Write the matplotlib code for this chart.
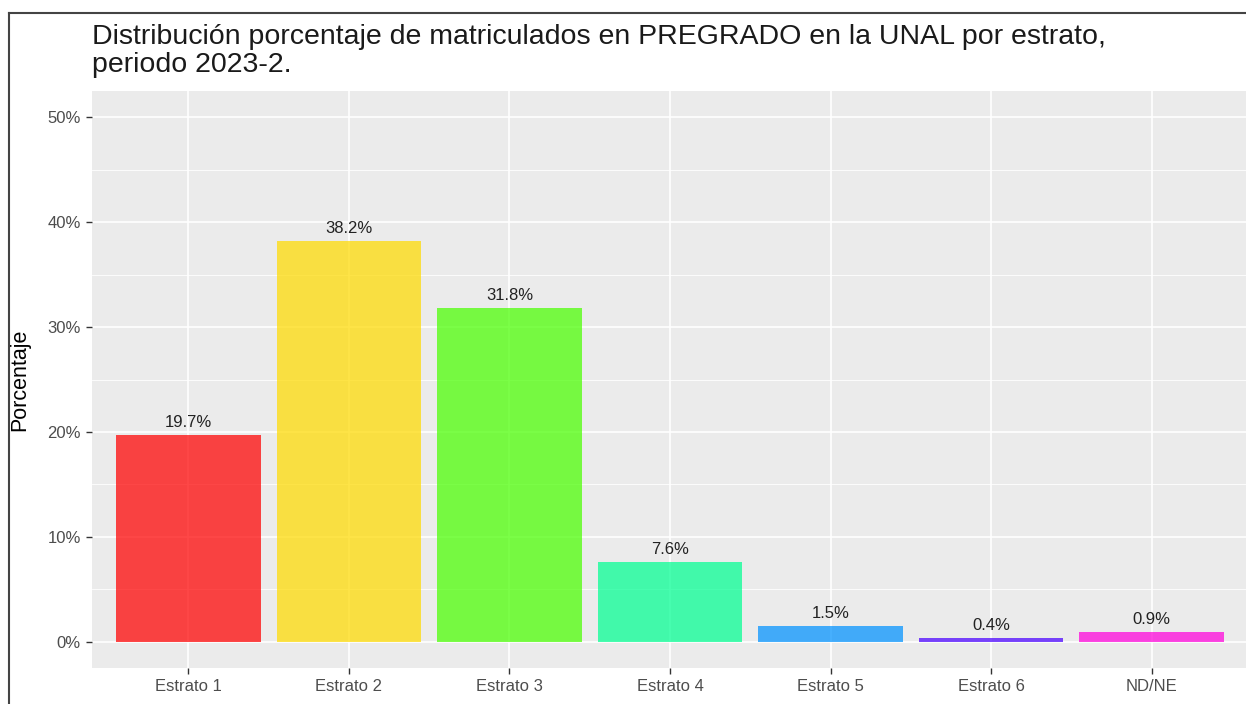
import matplotlib
matplotlib.use("Agg")
import matplotlib.pyplot as plt
from matplotlib.lines import Line2D

categories = ["Estrato 1", "Estrato 2", "Estrato 3", "Estrato 4", "Estrato 5", "Estrato 6", "ND/NE"]
values = [19.7, 38.2, 31.8, 7.6, 1.5, 0.4, 0.9]
labels = ["19.7%", "38.2%", "31.8%", "7.6%", "1.5%", "0.4%", "0.9%"]
colors = ["#FF0000", "#FFDB00", "#49FF00", "#00FF92", "#0092FF", "#4900FF", "#FF00DB"]
yticks = [0, 10, 20, 30, 40, 50]
yticklabels = ["0%", "10%", "20%", "30%", "40%", "50%"]
title_line1 = "Distribución porcentaje de matriculados en PREGRADO en la UNAL por estrato,"
title_line2 = "periodo 2023-2."

plt.rcParams['font.family'] = ['Liberation Sans', 'DejaVu Sans']

W, H = 1246, 704
fig = plt.figure(figsize=(W / 100, H / 100), dpi=100)
fig.patch.set_facecolor("white")

left, right, top, bottom = 92, 1248, 91, 668
ax = fig.add_axes([left / W, (H - bottom) / H, (right - left) / W, (bottom - top) / H])
ax.set_facecolor("#EBEBEB")
for s in ax.spines.values():
    s.set_visible(False)

x = list(range(1, len(categories) + 1))
ax.set_xlim(0.4, len(categories) + 0.6)
ax.set_ylim(-2.5, 52.5)

# grid
for yv in [5, 15, 25, 35, 45]:
    ax.axhline(yv, color="white", lw=0.6, zorder=0.5)
for yv in yticks:
    ax.axhline(yv, color="white", lw=1.2, zorder=0.6)
for xv in x:
    ax.axvline(xv, color="white", lw=1.2, zorder=0.6)

ax.bar(x, values, width=0.9, color=colors, alpha=0.72, zorder=2)
for xi, v, lab in zip(x, values, labels):
    ax.annotate(lab, (xi, v), xytext=(0, 3.5), textcoords="offset points",
                ha="center", va="bottom", fontsize=12, color="#222222", zorder=3)

ax.set_xticks(x)
ax.set_xticklabels(categories)
ax.set_yticks(yticks)
ax.set_yticklabels(yticklabels)
ax.tick_params(axis="both", colors="#333333", labelcolor="#4D4D4D", labelsize=12,
               length=4, width=1, pad=4)
ax.set_ylabel("Porcentaje", fontsize=15.5, color="black")
ax.yaxis.set_label_coords((30 - left) / (right - left), 0.5)

fig.text(92 / W, 1 - 44 / H, title_line1, ha="left", va="baseline",
         fontsize=20.5, color="#1a1a1a")
fig.text(92 / W, 1 - 72 / H, title_line2, ha="left", va="baseline",
         fontsize=20.5, color="#1a1a1a")

# outer frame lines (top and left)
fig.add_artist(Line2D([9 / W, 1], [1 - 13 / H, 1 - 13 / H], transform=fig.transFigure,
                      color="#444444", lw=1.5))
fig.add_artist(Line2D([9 / W, 9 / W], [0, 1 - 13 / H], transform=fig.transFigure,
                      color="#444444", lw=1.5))

fig.savefig("out.png", dpi=100)
